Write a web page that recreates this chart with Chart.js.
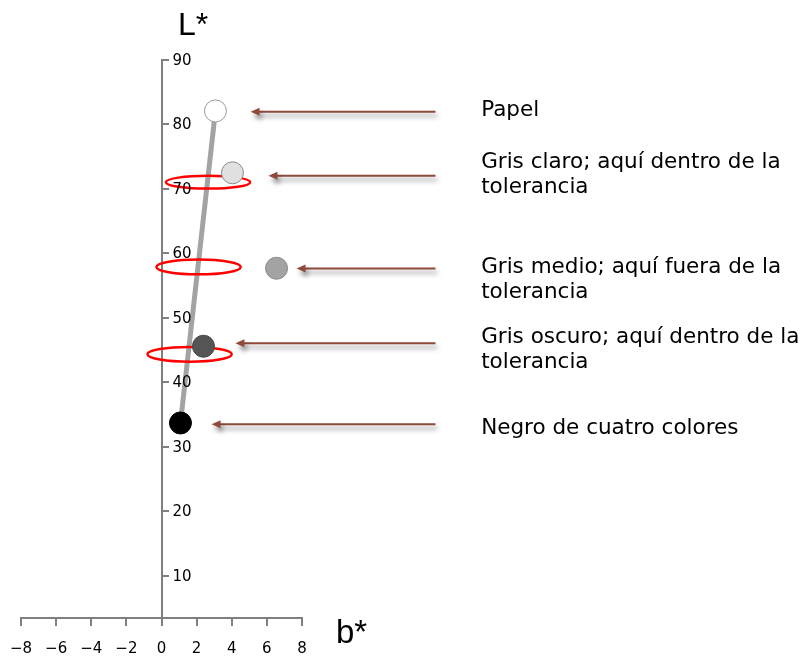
<!DOCTYPE html>
<html><head><meta charset="utf-8">
<script src="https://cdn.jsdelivr.net/npm/chart.js@4/dist/chart.umd.min.js"></script>
<style>html,body{margin:0;padding:0;background:#fff}canvas{display:block}</style>
</head><body>
<canvas id="c" width="803" height="657"></canvas>
<script>
// ---- data ----
const xTicks = [-8, -6, -4, -2, 0, 2, 4, 6, 8];
const yTicks = [10, 20, 30, 40, 50, 60, 70, 80, 90];
const xMin = -8, xMax = 8, yMin = 3.45, yMax = 90;
const sampleNames = ['Papel', 'Gris claro', 'Gris medio', 'Gris oscuro', 'Negro de cuatro colores'];
const sampleB = [3.07, 4.04, 6.55, 2.39, 1.08];
const sampleL = [82.1, 72.5, 57.7, 45.6, 33.7];
const pathB = [1.08, 3.07];
const pathL = [33.7, 82.1];
const toleranceB = [2.65, 2.11, 1.6];
const toleranceL = [71.05, 57.9, 44.35];
const toleranceHalfB = [2.4, 2.4, 2.4];
const toleranceHalfL = [1.0, 1.15, 1.15];
const arrowTailB = [15.6, 15.6, 15.6, 15.6, 15.6];
const arrowTipB = [5.07, 6.09, 7.69, 4.21, 2.85];
const arrowL = [81.97, 72.05, 57.66, 46.05, 33.5];
const labelB = [18.2, 18.2, 18.2, 18.2, 18.2];
const labelL = [82.2, 74.1, 57.9, 47.0, 32.9];
const labelLines = [
  ['Papel'],
  ['Gris claro; aquí dentro de la', 'tolerancia'],
  ['Gris medio; aquí fuera de la', 'tolerancia'],
  ['Gris oscuro; aquí dentro de la', 'tolerancia'],
  ['Negro de cuatro colores']
];
const axisTitleX = 'b*';
const axisTitleY = 'L*';

// ---- styles ----
const fills = ['#ffffff', '#e0e0e0', '#a3a3a3', '#555555', '#000000'];
const borders = ['#9a9a9a', '#8a8a8a', '#8a8a8a', '#444444', '#000000'];
const FONT = '"DejaVu Sans", Verdana, sans-serif';

const overlay = {
  id: 'overlay',
  afterDatasetDraw(chart, args) {
    if (args.index !== 1) return;
    const xs = chart.scales.x, ys = chart.scales.y, ctx = chart.ctx;
    ctx.save();
    ctx.strokeStyle = '#ff0000';
    ctx.lineWidth = 2.5;
    for (let i = 0; i < toleranceB.length; i++) {
      const cx = xs.getPixelForValue(toleranceB[i]);
      const cy = ys.getPixelForValue(toleranceL[i]);
      const rx = Math.abs(xs.getPixelForValue(toleranceB[i] + toleranceHalfB[i]) - cx);
      const ry = Math.abs(ys.getPixelForValue(toleranceL[i] + toleranceHalfL[i]) - cy);
      ctx.beginPath();
      ctx.ellipse(cx, cy, rx, ry, 0, 0, Math.PI * 2);
      ctx.stroke();
    }
    ctx.restore();
  },
  afterDraw(chart) {
    const xs = chart.scales.x, ys = chart.scales.y, ctx = chart.ctx;
    ctx.save();
    // y tick labels, right of the axis (axis sits at b* = 0)
    const axisX = xs.getPixelForValue(0);
    ctx.fillStyle = '#000';
    ctx.font = '15px ' + FONT;
    ctx.textAlign = 'left';
    ctx.textBaseline = 'middle';
    ys.ticks.forEach((t, i) => {
      ctx.fillText(String(t.value), axisX + 11, ys.getPixelForTick(i) + 1);
    });
    // arrows
    for (let i = 0; i < arrowTipB.length; i++) {
      const x1 = xs.getPixelForValue(arrowTailB[i]);
      const x2 = xs.getPixelForValue(arrowTipB[i]);
      const y = ys.getPixelForValue(arrowL[i]);
      ctx.save();
      ctx.shadowColor = 'rgba(0,0,0,0.45)';
      ctx.shadowBlur = 5;
      ctx.shadowOffsetX = 2;
      ctx.shadowOffsetY = 4;
      ctx.strokeStyle = '#8f4a3c';
      ctx.fillStyle = '#8f4a3c';
      ctx.lineWidth = 2;
      ctx.beginPath();
      ctx.moveTo(x1, y);
      ctx.lineTo(x2 + 6, y);
      ctx.stroke();
      ctx.beginPath();
      ctx.moveTo(x2, y);
      ctx.lineTo(x2 + 9, y - 4);
      ctx.lineTo(x2 + 9, y + 4);
      ctx.closePath();
      ctx.fill();
      ctx.restore();
    }
    // labels
    ctx.fillStyle = '#000';
    ctx.font = '21.5px ' + FONT;
    ctx.textBaseline = 'middle';
    ctx.textAlign = 'left';
    for (let i = 0; i < labelLines.length; i++) {
      const x = xs.getPixelForValue(labelB[i]);
      const y = ys.getPixelForValue(labelL[i]);
      labelLines[i].forEach((t, k) => ctx.fillText(t, x, y + k * 25));
    }
    // axis titles
    ctx.textAlign = 'left';
    ctx.textBaseline = 'alphabetic';
    ctx.font = '32px "Liberation Sans", Arial, sans-serif';
    ctx.fillText(axisTitleY, 178, 35);
    ctx.font = '33px "Liberation Sans", Arial, sans-serif';
    ctx.fillText(axisTitleX, 336, 643);
    ctx.restore();
  }
};

new Chart(document.getElementById('c'), {
  type: 'scatter',
  data: {
    datasets: [
      {
        label: 'Muestras',
        data: sampleB.map((b, i) => ({x: b, y: sampleL[i]})),
        pointRadius: 11,
        pointHoverRadius: 11,
        pointBackgroundColor: fills,
        pointBorderColor: borders,
        pointBorderWidth: 1,
        showLine: false
      },
      {
        label: 'Trayectoria',
        data: pathB.map((b, i) => ({x: b, y: pathL[i]})),
        showLine: true,
        borderColor: '#a3a3a3',
        borderWidth: 5,
        pointRadius: 0
      }
    ]
  },
  options: {
    responsive: false,
    animation: false,
    events: [],
    layout: {padding: {left: 21, right: 501, top: 60, bottom: 39}},
    plugins: {legend: {display: false}, tooltip: {enabled: false}},
    scales: {
      x: {
        type: 'linear',
        min: xMin, max: xMax,
        position: {y: yMin},
        afterBuildTicks: s => { s.ticks = xTicks.map(v => ({value: v})); },
        afterFit: s => { s.paddingLeft = 0; s.paddingRight = 0; },
        grid: {drawOnChartArea: false, color: '#7f7f7f', tickLength: 7, lineWidth: 2},
        border: {color: '#7f7f7f', width: 2},
        ticks: {
          color: '#000', padding: 15,
          font: {family: FONT, size: 15},
          callback: v => (v < 0 ? '\u2212' + Math.abs(v) : String(v))
        }
      },
      y: {
        type: 'linear',
        min: yMin, max: yMax,
        position: {x: 0},
        afterBuildTicks: s => { s.ticks = yTicks.map(v => ({value: v})); },
        afterFit: s => { s.paddingTop = 0; s.paddingBottom = 0; },
        grid: {drawOnChartArea: false, color: '#7f7f7f', tickLength: -8, lineWidth: 2},
        border: {color: '#7f7f7f', width: 2},
        ticks: {display: false}
      }
    }
  },
  plugins: [overlay]
});
</script>
</body></html>
